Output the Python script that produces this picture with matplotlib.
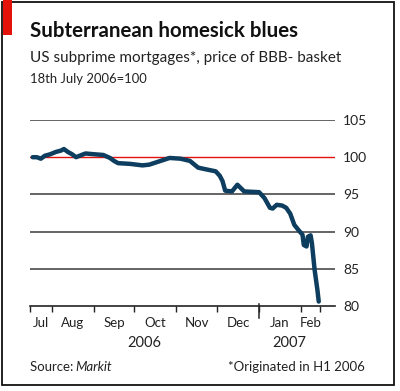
import matplotlib
matplotlib.use("Agg")
import matplotlib.pyplot as plt
import matplotlib.dates as mdates
import matplotlib.patches as mpatches
import numpy as np

# ---- data ----
dates = ["2006-07-18", "2006-07-21", "2006-07-24", "2006-07-27", "2006-07-31",
         "2006-08-04", "2006-08-08", "2006-08-10", "2006-08-13", "2006-08-16",
         "2006-08-19", "2006-08-23", "2006-08-26", "2006-09-01", "2006-09-08",
         "2006-09-13", "2006-09-16", "2006-09-19", "2006-09-28", "2006-10-07",
         "2006-10-12", "2006-10-17", "2006-10-22", "2006-10-27", "2006-11-04",
         "2006-11-11", "2006-11-17", "2006-11-22", "2006-11-30", "2006-12-03",
         "2006-12-05", "2006-12-07", "2006-12-12", "2006-12-16", "2006-12-21",
         "2007-01-01", "2007-01-05", "2007-01-09", "2007-01-11", "2007-01-14",
         "2007-01-18", "2007-01-21", "2007-01-24", "2007-01-27", "2007-01-31",
         "2007-02-02", "2007-02-03", "2007-02-05", "2007-02-06", "2007-02-08",
         "2007-02-09", "2007-02-11", "2007-02-13", "2007-02-14"]
values = [100.0, 100.0, 99.8, 100.2, 100.4,
          100.7, 100.9, 101.1, 100.7, 100.4,
          100.0, 100.3, 100.5, 100.4, 100.3,
          99.9, 99.5, 99.2, 99.1, 98.9,
          99.0, 99.3, 99.6, 99.9, 99.8,
          99.5, 98.6, 98.4, 98.1, 97.5,
          96.8, 95.5, 95.4, 96.3, 95.4,
          95.3, 94.5, 93.2, 93.1, 93.6,
          93.5, 93.2, 92.4, 90.9, 90.0,
          89.6, 88.2, 88.0, 89.3, 89.5,
          88.4, 84.8, 82.2, 80.6]
month_labels = ["Jul", "Aug", "Sep", "Oct", "Nov", "Dec", "Jan", "Feb"]
month_ticks = ["2006-07-16", "2006-08-01", "2006-09-01", "2006-10-01", "2006-11-01",
               "2006-12-01", "2007-01-01", "2007-02-01", "2007-02-15"]
year_labels = ["2006", "2007"]
year_bounds = ["2006-07-16", "2007-01-01", "2007-02-15"]
y_ticks = [80, 85, 90, 95, 100, 105]

title = "Subterranean homesick blues"
subtitle = "US subprime mortgages*, price of BBB- basket"
subsub = "18th July 2006=100"
source = "Source: Markit"
note = "*Originated in H1 2006"

W, H = 400, 391
fig = plt.figure(figsize=(W / 100, H / 100), dpi=100)
plt.rcParams['font.family'] = ['Lato', 'DejaVu Sans']

def fx(px):
    return px / W

def fy(py):
    return 1 - py / H

ax = fig.add_axes([fx(30), fy(306), fx(335) - fx(30), fy(120) - fy(306)])

x = mdates.date2num(np.array(dates, dtype="datetime64[D]"))
ax.plot(x, values, color="#0d3d5f", lw=3.2, solid_joinstyle="round",
        solid_capstyle="round", zorder=5, clip_on=False)

for v in [85, 90, 95, 105]:
    ax.axhline(v, color="#3a3a3a", lw=1.1, zorder=1)
ax.axhline(100, color="#e3120b", lw=1.0, zorder=2)

xmin = mdates.date2num(np.datetime64("2006-07-16"))
xmax = mdates.date2num(np.datetime64("2007-02-26"))
ax.set_xlim(xmin, xmax)
ax.set_ylim(80, 105)

for s in ["top", "left", "right"]:
    ax.spines[s].set_visible(False)
ax.spines["bottom"].set_color("#222222")
ax.spines["bottom"].set_linewidth(1.2)

mt = mdates.date2num(np.array(month_ticks, dtype="datetime64[D]"))
ax.set_xticks(mt)
ax.set_xticklabels([])
ax.tick_params(axis="x", direction="out", length=4.3, width=1.0, color="#222222")

# month labels centred between ticks
for i, lab in enumerate(month_labels):
    c = (mt[i] + mt[i + 1]) / 2
    ax.annotate(lab, xy=(c, 0), xycoords=("data", "axes fraction"),
                xytext=(0, -12.2), textcoords="offset points",
                ha="center", va="center", fontsize=9.5, color="#222222")

yb = mdates.date2num(np.array(year_bounds, dtype="datetime64[D]"))
for i, lab in enumerate(year_labels):
    c = (yb[i] + yb[i + 1]) / 2
    ax.annotate(lab, xy=(c, 0), xycoords=("data", "axes fraction"),
                xytext=(0, -26.6), textcoords="offset points",
                ha="center", va="center", fontsize=10.5, color="#222222")

# year boundary tick
ax.axvline(yb[1], ymin=-0.065, ymax=0.012, color="#222222", lw=1.1, clip_on=False)

ax.yaxis.tick_right()
ax.set_yticks(y_ticks)
ax.set_yticklabels([str(v) for v in y_ticks])
ax.tick_params(axis="y", length=0, pad=5.8, labelsize=10, labelcolor="#222222")

# texts
fig.text(fx(30), fy(31), title, fontsize=14.8, fontweight="bold", color="#111111",
         ha="left", va="center")
fig.text(fx(30), fy(58), subtitle, fontsize=11, color="#222222", ha="left", va="center")
fig.text(fx(30), fy(79), subsub, fontsize=9.4, color="#222222", ha="left", va="center")
fig.text(fx(30), fy(367), "Source: ", fontsize=9.5, color="#222222", ha="left", va="center")
fig.text(fx(75), fy(367), "Markit", fontsize=9.5, color="#222222", ha="left", va="center",
         style="italic")
fig.text(fx(365), fy(367), note, fontsize=9.5, color="#222222", ha="right", va="center")

# border and red tab
fig.patches.append(mpatches.Rectangle((fx(2), fy(385)), fx(394) - fx(2), fy(2) - fy(385),
                                      transform=fig.transFigure, fill=False,
                                      edgecolor="#111111", lw=1.3))
fig.patches.append(mpatches.Rectangle((fx(3), fy(35)), fx(12) - fx(3), fy(0) - fy(35),
                                      transform=fig.transFigure, facecolor="#e3120b",
                                      edgecolor="none"))

fig.savefig("out.png", dpi=100)
